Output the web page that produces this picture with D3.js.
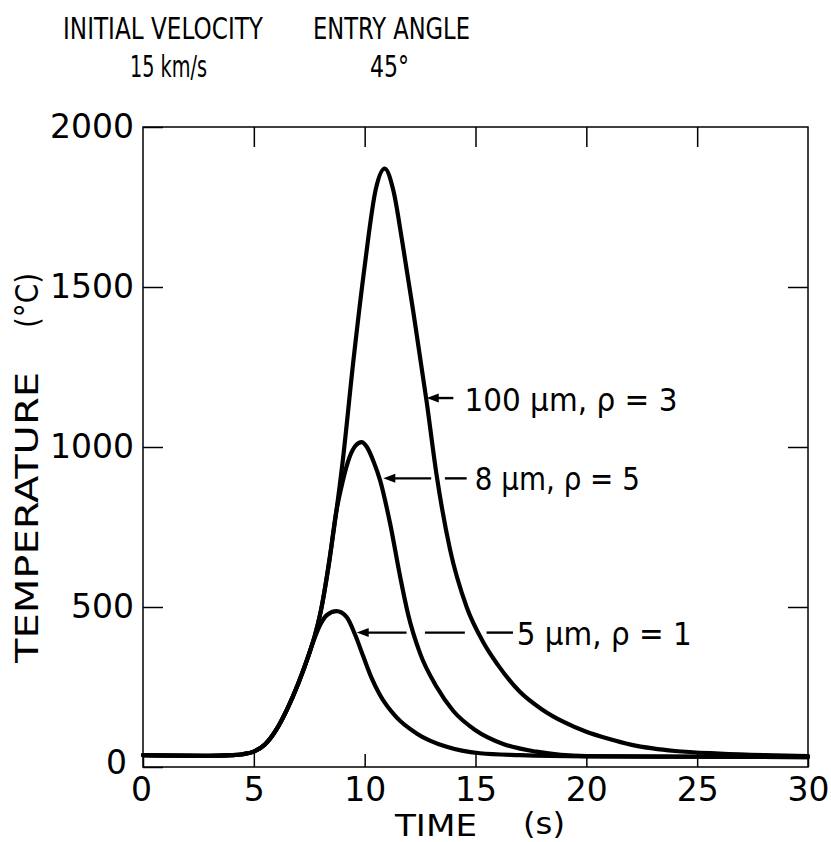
<!DOCTYPE html>
<html>
<head>
<meta charset="utf-8">
<script src="https://cdn.jsdelivr.net/npm/d3@7"></script>
<style>
  html, body { margin: 0; padding: 0; background: #fff; }
  svg text { font-family: "DejaVu Sans", sans-serif; fill: #000; }
</style>
</head>
<body>
<div id="chart"></div>
<script>
// Temperature of micrometeoroids during atmospheric entry (15 km/s, 45°)
const xTicks = [0, 5, 10, 15, 20, 25, 30];
const yTicks = [0, 500, 1000, 1500, 2000];

// 100 µm, rho = 3
const time100 = [0, 3, 4, 4.5, 5, 5.5, 6, 6.5, 7, 7.5, 7.75, 8, 8.5, 9, 9.5, 10, 10.5, 10.9, 11.3, 11.7, 12.2, 12.8, 13.25, 13.85, 14.6, 15.35, 16, 17, 18, 19, 20, 21, 22, 23, 24, 26, 28, 30];
const temp100 = [37, 35, 37, 40, 48, 70, 115, 180, 260, 355, 410, 480, 690, 950, 1275, 1565, 1805, 1870, 1800, 1640, 1420, 1140, 910, 680, 500, 390, 320, 235, 180, 140, 110, 88, 70, 58, 50, 42, 37, 34];

// 8 µm, rho = 5
const time8 = [0, 3, 4, 4.5, 5, 5.5, 6, 6.5, 7, 7.5, 7.75, 8, 8.4, 8.7, 9.0, 9.3, 9.6, 9.86, 10.1, 10.4, 10.7, 11.15, 11.6, 11.95, 12.5, 13.25, 14, 15, 16.25, 17.75, 20, 25, 30];
const temp8 = [37, 35, 37, 40, 48, 70, 115, 180, 260, 355, 410, 480, 640, 790, 890, 965, 1005, 1015, 1000, 955, 895, 760, 595, 480, 355, 250, 175, 115, 72, 48, 34, 32, 31];

// 5 µm, rho = 1
const time5 = [0, 3, 4, 4.5, 5, 5.5, 6, 6.5, 7, 7.4, 7.7, 8.0, 8.3, 8.73, 9.18, 9.56, 9.94, 10.3, 10.69, 11.44, 12.34, 13.7, 15.2, 17, 20, 30];
const temp5 = [37, 35, 37, 40, 48, 70, 115, 180, 260, 335, 395, 445, 475, 487, 469, 415, 345, 280, 225, 155, 105, 63, 43, 37, 33, 31];

const series = [
  { t: time100, v: temp100 },
  { t: time8, v: temp8 },
  { t: time5, v: temp5 }
];

// labels: arrow tip (curve point), leader segments in seconds, text start, baseline temperature
const labels = [
  { text: "100 μm, ρ = 3", tipT: 12.8, tipV: 1153, segs: [[12.8, 14.0]], textT: 14.5, baseV: 1113, len: 213 },
  { text: "8 μm, ρ = 5", tipT: 10.84, tipV: 902, segs: [[10.84, 13.0], [13.62, 14.6]], textT: 14.97, baseV: 866, len: 165 },
  { text: "5 μm, ρ = 1", tipT: 9.64, tipV: 420, segs: [[9.64, 11.89], [12.72, 14.52], [15.5, 16.69]], textT: 16.86, baseV: 381, len: 175 }
];

const W = 831, H = 842;
const svg = d3.select("#chart").append("svg")
  .attr("width", W)
  .attr("height", H);

svg.append("rect").attr("width", W).attr("height", H).attr("fill", "#fff");

const x = d3.scaleLinear().domain([0, 30]).range([143, 808]);
const y = d3.scaleLinear().domain([0, 2000]).range([767, 127]);

// frame
svg.append("rect")
  .attr("x", x(0)).attr("y", y(2000))
  .attr("width", x(30) - x(0)).attr("height", y(0) - y(2000))
  .attr("fill", "none").attr("stroke", "#000").attr("stroke-width", 1.5);

// axes (ticks pointing inward)
const fs = 33;
const gx = svg.append("g")
  .attr("transform", `translate(0,${y(0)})`)
  .call(d3.axisBottom(x).tickValues(xTicks).tickSizeInner(-13).tickSizeOuter(0).tickPadding(11).tickFormat(d3.format("d")));
const gy = svg.append("g")
  .attr("transform", `translate(${x(0)},0)`)
  .call(d3.axisLeft(y).tickValues(yTicks).tickSizeInner(-20).tickSizeOuter(0).tickPadding(9).tickFormat(d3.format("d")));
const gt = svg.append("g")
  .attr("transform", `translate(0,${y(2000)})`)
  .call(d3.axisTop(x).tickValues(xTicks.slice(1, -1)).tickSizeInner(-20).tickSizeOuter(0).tickFormat(""));
const gr = svg.append("g")
  .attr("transform", `translate(${x(30)},0)`)
  .call(d3.axisRight(y).tickValues(yTicks.slice(1, -1)).tickSizeInner(-20).tickSizeOuter(0).tickFormat(""));

[gx, gy, gt, gr].forEach(g => {
  g.select(".domain").remove();
  g.selectAll(".tick line").attr("stroke", "#000").attr("stroke-width", 1.5);
  g.selectAll(".tick text")
    .attr("font-family", "DejaVu Sans")
    .attr("font-size", fs)
    .attr("fill", "#000");
});
// the two zeros at the corner sit side by side
gx.selectAll(".tick text").filter(d => d === 0).attr("x", -2);
gy.selectAll(".tick text").filter(d => d === 0).attr("x", -16).attr("dy", "0.2em");

// curves
const line = d3.line()
  .x(d => x(d[0]))
  .y(d => y(d[1]))
  .curve(d3.curveMonotoneX);

svg.selectAll("path.curve")
  .data(series)
  .enter()
  .append("path")
    .attr("class", "curve")
    .attr("d", s => line(s.t.map((t, i) => [t, s.v[i]])))
    .attr("fill", "none")
    .attr("stroke", "#000")
    .attr("stroke-width", 4.2)
    .attr("stroke-linejoin", "round")
    .attr("stroke-linecap", "round");

// curve labels with arrows
labels.forEach(l => {
  const yy = y(l.tipV);
  l.segs.forEach(s => {
    svg.append("line")
      .attr("x1", x(s[0]) + (s[0] === l.tipT ? 8 : 0)).attr("x2", x(s[1]))
      .attr("y1", yy).attr("y2", yy)
      .attr("stroke", "#000").attr("stroke-width", 2.4);
  });
  const tx = x(l.tipT);
  svg.append("path")
    .attr("d", `M${tx},${yy} l12,-4.5 l0,9 z`)
    .attr("fill", "#000");
  svg.append("text")
    .attr("x", x(l.textT))
    .attr("y", y(l.baseV))
    .attr("font-size", 32)
    .attr("textLength", l.len)
    .attr("lengthAdjust", "spacingAndGlyphs")
    .text(l.text);
});

// titles
const titles = [
  { text: "INITIAL VELOCITY", x: 63, y: 39, len: 200 },
  { text: "ENTRY ANGLE", x: 313, y: 39, len: 157 },
  { text: "15 km/s", x: 130, y: 77, len: 77 },
  { text: "45°", x: 370, y: 77, len: 39 }
];
svg.selectAll("text.title")
  .data(titles)
  .enter()
  .append("text")
    .attr("class", "title")
    .attr("x", d => d.x)
    .attr("y", d => d.y)
    .attr("font-size", 31)
    .attr("textLength", d => d.len)
    .attr("lengthAdjust", "spacingAndGlyphs")
    .text(d => d.text);

// axis titles
svg.append("text")
  .attr("x", 395).attr("y", 836)
  .attr("font-size", 31)
  .attr("textLength", 82).attr("lengthAdjust", "spacingAndGlyphs")
  .text("TIME");
svg.append("text")
  .attr("x", 523).attr("y", 834)
  .attr("font-size", 30)
  .attr("textLength", 42).attr("lengthAdjust", "spacingAndGlyphs")
  .text("(s)");

svg.append("text")
  .attr("transform", "translate(38,663) rotate(-90)")
  .attr("font-size", 32)
  .attr("textLength", 291).attr("lengthAdjust", "spacingAndGlyphs")
  .text("TEMPERATURE");
svg.append("text")
  .attr("transform", "translate(38,328) rotate(-90)")
  .attr("font-size", 32)
  .attr("textLength", 55).attr("lengthAdjust", "spacingAndGlyphs")
  .text("(°C)");
</script>
</body>
</html>
